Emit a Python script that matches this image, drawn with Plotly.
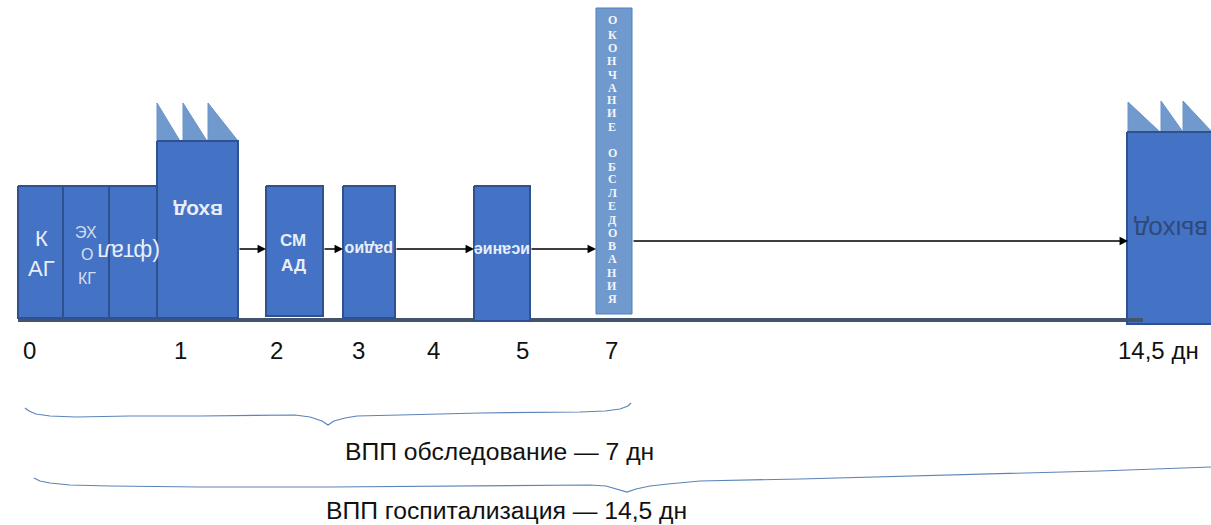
import plotly.graph_objects as go

W, H = 1211, 525
DARK = "#4472C4"
EDGE = "#2F528F"
LIGHT = "#7099CE"
BAR = "#44546A"

# blocks: left, right, top, bottom
block_names = ["КАГ", "ЭхоКГ", "офтальм", "вход", "СМАД", "радио", "описание", "выход"]
block_left = [18, 63, 109, 157, 266, 343, 474, 1127]
block_right = [63, 109, 157, 238, 323, 395, 530, 1218]
block_top = [186, 186, 186, 141, 186, 186, 186, 132]
block_bottom = [318, 318, 318, 318, 316, 318, 321, 324]

end_left, end_right, end_top, end_bottom = 596, 632, 8, 314

# triangles
tri_left = [157, 183, 208, 1128, 1161, 1183]
tri_right = [180, 207, 238, 1160, 1183, 1212]
tri_tip = [103, 103, 103, 102, 101, 101]
tri_base = [141, 141, 141, 132, 132, 132]

# day scale
tick_labels = ["0", "1", "2", "3", "4", "5", "7", "14,5 дн"]
tick_x = [29, 180, 276, 358, 433, 522, 611, 1158]
tick_y = 350

# arrows
arrow_x0 = [238, 323, 395, 530, 632]
arrow_x1 = [266, 343, 474, 596, 1128]
arrow_y = [249, 249, 249, 249, 241]

# inner labels
label_str = ["К", "АГ", "ЭХ", "О", "КГ", "(фтал", "вход", "СМ", "АД", "радио", "исание", "выход"]
label_x = [41, 41, 86, 87, 87, 129, 198, 293, 293, 369, 502, 1171]
label_y = [238, 268, 232, 254, 278, 252, 212, 240, 265, 250, 251, 230]
label_size = [22, 22, 16, 16, 16, 23, 21, 17, 17, 16, 16, 26]
label_bold = [False, False, False, False, False, False, True, True, True, True, True, False]
label_color = ["#E8EEF8"] * 2 + ["#D5DEEF"] * 3 + ["#E8EEF8"] * 6 + ["#2F4A78"]
label_flip = [False, False, False, False, False, True, True, False, False, True, True, True]

end_text = "ОКОНЧАНИЕ ОБСЛЕДОВАНИЯ"
end_y = [20, 35, 48, 61, 75, 88, 100, 113, 127, 153, 167, 179, 193, 206, 220, 233, 246, 259, 273, 286, 299]
end_chars = [c for c in end_text if c != " "]

# braces
brace1_x = [25, 29, 36, 50, 76, 130, 200, 270, 295, 310, 322, 328, 334, 345, 357, 400, 480, 580, 605, 620, 628, 631]
brace1_y = [408, 411, 414, 416, 417, 416, 416, 415, 415, 417, 421, 425, 421, 418, 416, 415, 413, 412, 411, 409, 406, 403]
brace2_x = [34, 40, 50, 70, 110, 200, 330, 450, 560, 590, 606, 618, 627, 636, 650, 668, 700, 800, 950, 1100, 1211]
brace2_y = [478, 481, 483, 485, 486, 487, 487, 486, 485, 485, 486, 489, 492, 489, 486, 484, 481, 479, 475, 471, 467]

captions = ["ВПП обследование — 7 дн", "ВПП госпитализация — 14,5 дн"]
caption_x = [499, 506]
caption_y = [451, 510]

# baseline
line_x = [18, 1143]
line_y = 320
line_w = 4

fig = go.Figure()

fig.add_trace(go.Scatter(x=line_x, y=[line_y, line_y], mode="lines",
                         line=dict(color=BAR, width=line_w), hoverinfo="skip"))

for l, r, t, b in zip(tri_left, tri_right, tri_tip, tri_base):
    fig.add_trace(go.Scatter(x=[l, r, l, l], y=[b, b, t, b], mode="lines", fill="toself",
                             fillcolor=LIGHT, line=dict(color="#6A93C8", width=1), hoverinfo="skip"))

for l, r, t, b in zip(block_left, block_right, block_top, block_bottom):
    fig.add_trace(go.Scatter(x=[l, r, r, l, l], y=[t, t, b, b, t], mode="lines", fill="toself",
                             fillcolor=DARK, line=dict(color=EDGE, width=2), hoverinfo="skip"))

# short stretch of the baseline runs over the last block
fig.add_trace(go.Scatter(x=[1127, line_x[1]], y=[line_y, line_y], mode="lines",
                         line=dict(color=BAR, width=line_w), hoverinfo="skip"))

fig.add_trace(go.Scatter(x=[end_left, end_right, end_right, end_left, end_left],
                         y=[end_top, end_top, end_bottom, end_bottom, end_top],
                         mode="lines", fill="toself", fillcolor=LIGHT,
                         line=dict(color="#4F7FBF", width=1), hoverinfo="skip"))

for xs, ys in ((brace1_x, brace1_y), (brace2_x, brace2_y)):
    fig.add_trace(go.Scatter(x=xs, y=ys, mode="lines", line=dict(color="#5B84B8", width=1.2),
                             hoverinfo="skip"))

ann = []
for x0, x1, y in zip(arrow_x0, arrow_x1, arrow_y):
    ann.append(dict(x=x1, y=y, ax=x0, ay=y, xref="x", yref="y", axref="x", ayref="y", text="",
                    showarrow=True, arrowhead=2, arrowsize=1.3, arrowwidth=1.3, arrowcolor="#000000"))

for s, x, y, sz, bold, col, flip in zip(label_str, label_x, label_y, label_size, label_bold, label_color, label_flip):
    ann.append(dict(x=x, y=y, xref="x", yref="y", text=f"<b>{s}</b>" if bold else s, showarrow=False,
                    textangle=180 if flip else 0,
                    font=dict(family="Liberation Sans", size=sz, color=col)))

for c, y in zip(end_chars, end_y):
    ann.append(dict(x=612, y=y, xref="x", yref="y", text=f"<b>{c}</b>", showarrow=False,
                    font=dict(family="Liberation Serif", size=12, color="#F2F5FA")))

for s, x in zip(tick_labels, tick_x):
    ann.append(dict(x=x, y=tick_y, xref="x", yref="y", text=s, showarrow=False,
                    font=dict(family="Liberation Sans", size=24, color="#111111")))

for s, x, y in zip(captions, caption_x, caption_y):
    ann.append(dict(x=x, y=y, xref="x", yref="y", text=s, showarrow=False,
                    font=dict(family="Liberation Sans", size=24.7, color="#111111")))

fig.update_layout(
    width=W, height=H, autosize=False, showlegend=False,
    margin=dict(l=0, r=0, t=0, b=0),
    paper_bgcolor="white", plot_bgcolor="white",
    xaxis=dict(range=[0, W], visible=False, fixedrange=True),
    yaxis=dict(range=[H, 0], visible=False, fixedrange=True),
    annotations=ann,
)
fig.write_html("out.html", config={"displayModeBar": False},
               default_width=f"{W}px", default_height=f"{H}px",
               post_script="document.body.style.margin='0';document.documentElement.style.overflow='hidden';")
